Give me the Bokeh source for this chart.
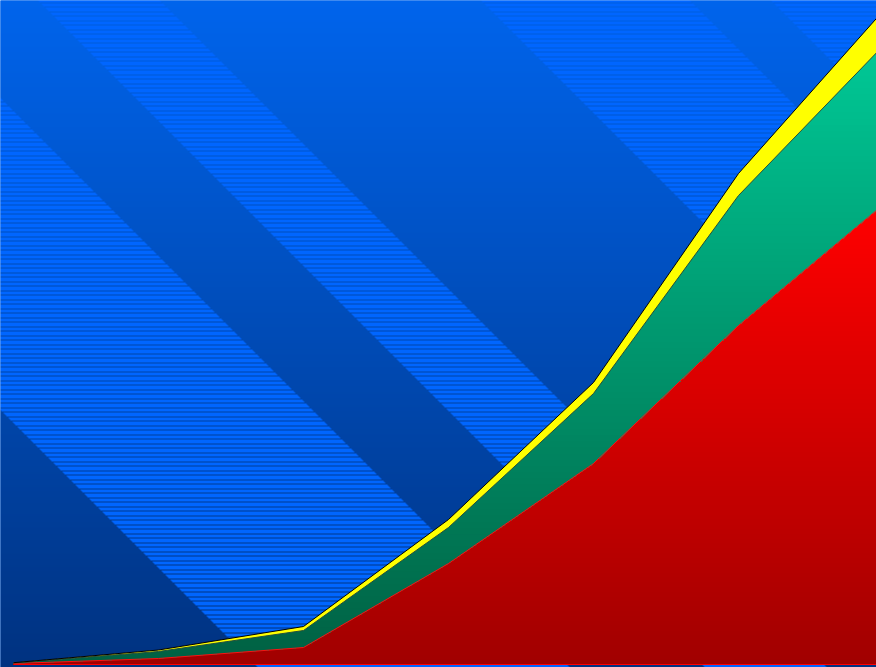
import numpy as np
from bokeh.plotting import figure
from bokeh.models import Range1d
from bokeh.embed import file_html
from bokeh.resources import INLINE

# ---- data ----
periods = [0, 1, 2, 3, 4, 5, 6]
red_values = [1, 6, 17, 101, 201, 339, 460]
green_values = [0.5, 7, 17, 36, 70, 130, 159]
yellow_values = [0.3, 1.5, 4, 8, 11, 22, 35]

# ---- layout constants ----
W, H = 876, 667            # figure size on page
REF_W, REF_H = 876.0, 667.0
X0_PX, DX_PX = 13.0, 145.0  # position of first period and spacing in pixels
BASE_PX = 664.0
PAD = 3                     # background image overhang (pixels)

x_start = (0 - X0_PX) / DX_PX
x_end = (REF_W - X0_PX) / DX_PX
y_start = BASE_PX - REF_H
y_end = BASE_PX

p = figure(width=W, height=H, output_backend="svg", toolbar_location=None,
           x_range=Range1d(x_start, x_end), y_range=Range1d(y_start, y_end),
           x_axis_location=None, y_axis_location=None, min_border=0)
p.grid.visible = False
p.outline_line_color = None
p.background_fill_color = "#0064ec"
p.border_fill_color = "#0064ec"

# ---- background: vertical blue gradient with diagonal striped bands ----
HH, WW = H + 2 * PAD, W + 2 * PAD
ref_y = np.arange(HH) - PAD + 0.5
ref_x = np.arange(WW) - PAD + 0.5
RY, RX = np.meshgrid(ref_y, ref_x, indexing="ij")

top_c = np.array([0, 100, 236], dtype=float)
bot_c = np.array([0, 50, 128], dtype=float)
t = np.clip(ref_y / REF_H, 0, 1)[:, None]
plain_row = top_c[None, :] * (1 - t) + bot_c[None, :] * t

# stripes: 1px lines every 4.5 px, snapped to whole rows
row_idx = np.floor(ref_y).astype(int)
line_rows = set(np.floor(2.0 + 4.5 * np.arange(-2, 160)).astype(int).tolist())
is_line = np.array([r in line_rows for r in row_idx])
stripe_base = np.array([0, 102, 255], dtype=float)
line_col = plain_row * 0.95
stripe_row = np.where(is_line[:, None], line_col, stripe_base[None, :])

C = RY - RX
striped = ((C > 97) & (C < 410)) | ((C > -160) & (C < -37)) | ((C > -690) & (C < -480)) | (C < -770)

img = np.where(striped[:, :, None], stripe_row[:, None, :], plain_row[:, None, :])
rgba = np.empty((HH, WW, 4), dtype=np.uint8)
rgba[:, :, :3] = np.clip(np.round(img), 0, 255).astype(np.uint8)
rgba[:, :, 3] = 255
rgba = rgba[::-1].copy()
px_x = (x_end - x_start) / W
px_y = (y_end - y_start) / H
p.image_rgba(image=[rgba.view(np.uint32).reshape(HH, WW)],
             x=x_start - PAD * px_x, y=y_start - PAD * px_y,
             dw=(x_end - x_start) + 2 * PAD * px_x, dh=(y_end - y_start) + 2 * PAD * px_y)

# ---- stacked areas ----
x = np.array(periods, dtype=float)
t1 = np.array(red_values, dtype=float)
t2 = t1 + np.array(green_values, dtype=float)
t3 = t2 + np.array(yellow_values, dtype=float)

xd = np.union1d(np.linspace(x[0], x[-1], 1201), x)
t1d = np.interp(xd, x, t1)
t2d = np.interp(xd, x, t2)
t3d = np.interp(xd, x, t3)
zero = np.zeros_like(xd)


def hexc(c):
    c = np.clip(np.round(c), 0, 255).astype(int)
    return "#%02x%02x%02x" % tuple(c)


# red gradient: bright at top, dark at bottom
r_top, r_bot = np.array([255, 0, 0]), np.array([160, 0, 0])
R_SPAN = 459.0
N = 95
p.varea(x=xd, y1=zero, y2=t1d, fill_color=hexc(r_top))
for i in range(1, N):
    hi = R_SPAN * (1 - i / N)
    col = r_top * (1 - i / N) + r_bot * (i / N)
    p.varea(x=xd, y1=zero, y2=np.minimum(t1d, hi), fill_color=hexc(col))

# green gradient
g_top, g_bot = np.array([0, 200, 150]), np.array([0, 96, 66])
G_SPAN = 620.0
N = 100
p.varea(x=xd, y1=t1d, y2=t2d, fill_color=hexc(g_top))
for i in range(1, N):
    hi = G_SPAN * (1 - i / N)
    col = g_top * (1 - i / N) + g_bot * (i / N)
    p.varea(x=xd, y1=np.minimum(t1d, hi), y2=np.minimum(t2d, hi), fill_color=hexc(col))

# yellow
p.varea(x=xd, y1=t2d, y2=t3d, fill_color="#ffff00")

# outlines
p.line(x, np.zeros_like(x), line_color="#ff0000", line_width=1.2)
p.line(x, t1, line_color="#ff1010", line_width=1)
p.line(x, t2, line_color="#24503c", line_width=1)
p.line(x, t3, line_color="#000000", line_width=1)

open("out.html", "w").write(file_html(p, INLINE))
